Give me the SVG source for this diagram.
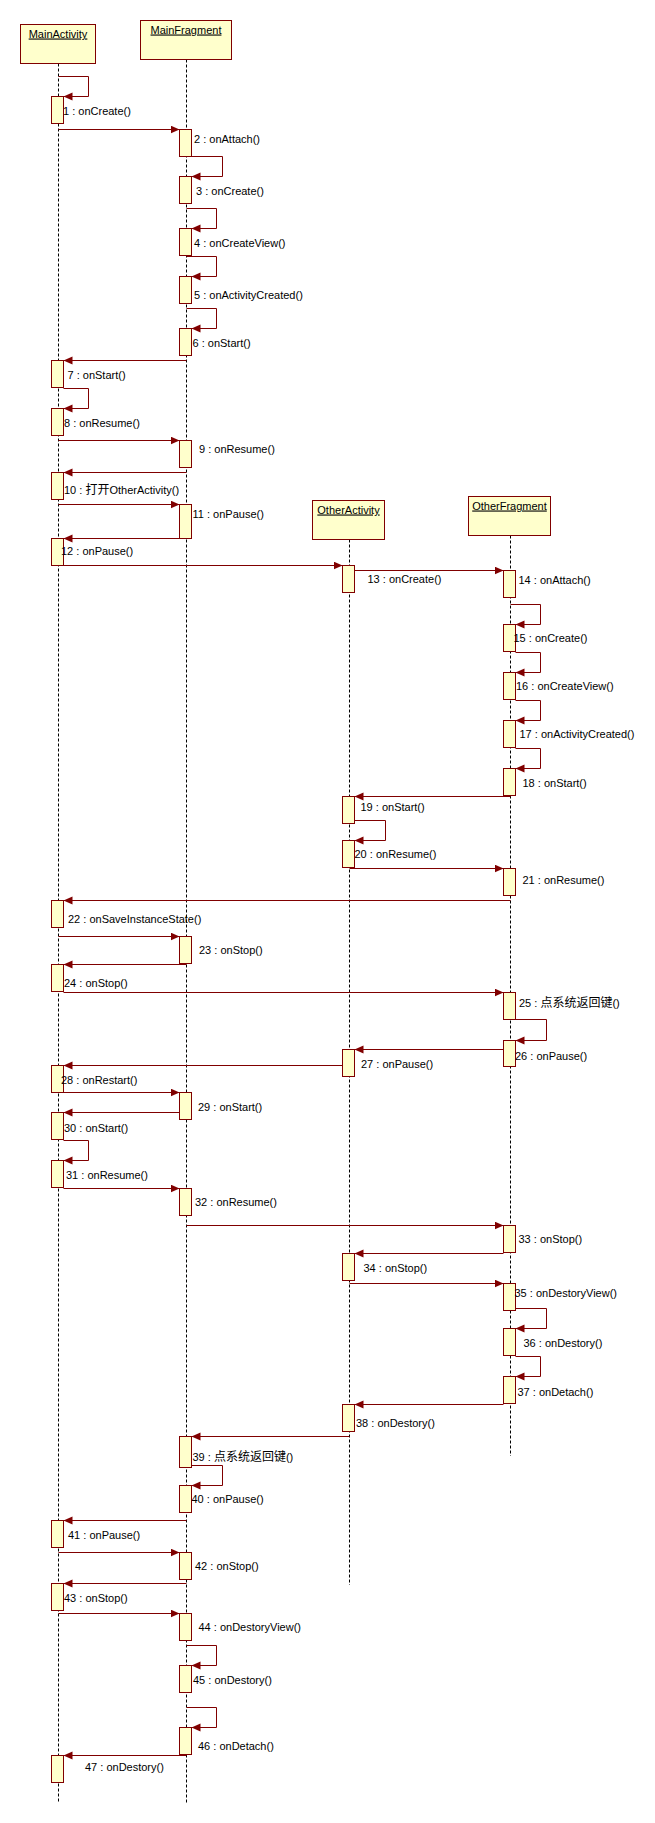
<svg xmlns="http://www.w3.org/2000/svg" width="655" height="1823" viewBox="0 0 655 1823">
<style>
.ll{stroke:#000;stroke-width:1;stroke-dasharray:3,2;fill:none}
.hd{fill:#ffffcc;stroke:#800000;stroke-width:1}
.act{fill:#ffffcc;stroke:#800000;stroke-width:1}
.msg{fill:none;stroke:#800000;stroke-width:1;marker-end:url(#ah)}
.nm{font-family:"Liberation Sans","Noto Sans CJK SC",sans-serif;font-size:11px;fill:#000;text-anchor:middle;text-decoration:underline}
.lbl{font-family:"Liberation Sans","Noto Sans CJK SC",sans-serif;font-size:11px;fill:#000}
.cjk{font-family:"Noto Sans CJK SC",sans-serif;font-size:12px}
</style>
<defs>
<marker id="ah" markerUnits="userSpaceOnUse" markerWidth="10" markerHeight="9" refX="9" refY="4" orient="auto">
<path d="M0,0 L9,4 L0,8 z" fill="#800000"/>
</marker>
</defs>
<rect width="655" height="1823" fill="#fff"/>

<g id="lifelines">
<line class="ll" x1="58.5" y1="63.5" x2="58.5" y2="1803"/>
<line class="ll" x1="186.5" y1="59.5" x2="186.5" y2="1803"/>
<line class="ll" x1="349.5" y1="539.5" x2="349.5" y2="1585"/>
<line class="ll" x1="510.5" y1="535.5" x2="510.5" y2="1456"/>
</g>

<g id="connectors">
<path class="msg" d="M58.5,76.5 H88.5 V96.5 H63.5"/>
<path class="msg" d="M58.5,129.5 H179.5"/>
<path class="msg" d="M191.5,156.5 H222.5 V176.5 H191.5"/>
<path class="msg" d="M186.5,208.5 H216.5 V228.5 H191.5"/>
<path class="msg" d="M186.5,256.5 H216.5 V276.5 H191.5"/>
<path class="msg" d="M186.5,308.5 H216.5 V328.5 H191.5"/>
<path class="msg" d="M186.5,360.5 H63.5"/>
<path class="msg" d="M63.5,388.5 H88.5 V408.5 H63.5"/>
<path class="msg" d="M58.5,440.5 H179.5"/>
<path class="msg" d="M186.5,472.5 H63.5"/>
<path class="msg" d="M58.5,504.5 H179.5"/>
<path class="msg" d="M186.5,538.5 H63.5"/>
<path class="msg" d="M63.5,565.5 H342.5"/>
<path class="msg" d="M354.5,570.5 H503.5"/>
<path class="msg" d="M510.5,604.5 H540.5 V624.5 H515.5"/>
<path class="msg" d="M515.5,652.5 H540.5 V672.5 H515.5"/>
<path class="msg" d="M515.5,700.5 H540.5 V720.5 H515.5"/>
<path class="msg" d="M515.5,748.5 H540.5 V768.5 H515.5"/>
<path class="msg" d="M510.5,796.5 H354.5"/>
<path class="msg" d="M354.5,820.5 H385.5 V840.5 H354.5"/>
<path class="msg" d="M349.5,868.5 H503.5"/>
<path class="msg" d="M510.5,900.5 H63.5"/>
<path class="msg" d="M58.5,936.5 H179.5"/>
<path class="msg" d="M186.5,964.5 H63.5"/>
<path class="msg" d="M63.5,992.5 H503.5"/>
<path class="msg" d="M515.5,1019.5 H546.5 V1040.5 H515.5"/>
<path class="msg" d="M503.5,1049.5 H354.5"/>
<path class="msg" d="M349.5,1065.5 H63.5"/>
<path class="msg" d="M63.5,1092.5 H179.5"/>
<path class="msg" d="M179.5,1112.5 H63.5"/>
<path class="msg" d="M63.5,1140.5 H88.5 V1160.5 H63.5"/>
<path class="msg" d="M63.5,1188.5 H179.5"/>
<path class="msg" d="M186.5,1225.5 H503.5"/>
<path class="msg" d="M503.5,1253.5 H354.5"/>
<path class="msg" d="M349.5,1283.5 H503.5"/>
<path class="msg" d="M515.5,1308.5 H546.5 V1328.5 H515.5"/>
<path class="msg" d="M515.5,1356.5 H540.5 V1376.5 H515.5"/>
<path class="msg" d="M503.5,1404.5 H354.5"/>
<path class="msg" d="M349.5,1436.5 H191.5"/>
<path class="msg" d="M191.5,1465.5 H222.5 V1485.5 H191.5"/>
<path class="msg" d="M186.5,1520.5 H63.5"/>
<path class="msg" d="M58.5,1552.5 H179.5"/>
<path class="msg" d="M186.5,1583.5 H63.5"/>
<path class="msg" d="M58.5,1613.5 H179.5"/>
<path class="msg" d="M186.5,1645.5 H216.5 V1665.5 H191.5"/>
<path class="msg" d="M186.5,1707.5 H216.5 V1727.5 H191.5"/>
<path class="msg" d="M186.5,1755.5 H63.5"/>
</g>

<g id="MainActivity">
<rect class="hd" x="20.5" y="24.5" width="75" height="39"/>
<text class="nm" x="58" y="37.5">MainActivity</text>
<rect class="act" x="51.5" y="96.5" width="12" height="27"/>
<rect class="act" x="51.5" y="360.5" width="12" height="27"/>
<rect class="act" x="51.5" y="408.5" width="12" height="27"/>
<rect class="act" x="51.5" y="472.5" width="12" height="27"/>
<rect class="act" x="51.5" y="538.5" width="12" height="27"/>
<rect class="act" x="51.5" y="900.5" width="12" height="27"/>
<rect class="act" x="51.5" y="964.5" width="12" height="27"/>
<rect class="act" x="51.5" y="1065.5" width="12" height="27"/>
<rect class="act" x="51.5" y="1112.5" width="12" height="27"/>
<rect class="act" x="51.5" y="1160.5" width="12" height="27"/>
<rect class="act" x="51.5" y="1520.5" width="12" height="27"/>
<rect class="act" x="51.5" y="1583.5" width="12" height="27"/>
<rect class="act" x="51.5" y="1755.5" width="12" height="27"/>
</g>

<g id="MainFragment">
<rect class="hd" x="140.5" y="20.5" width="91" height="39"/>
<text class="nm" x="186" y="33.5">MainFragment</text>
<rect class="act" x="179.5" y="129.5" width="12" height="27"/>
<rect class="act" x="179.5" y="176.5" width="12" height="27"/>
<rect class="act" x="179.5" y="228.5" width="12" height="27"/>
<rect class="act" x="179.5" y="276.5" width="12" height="27"/>
<rect class="act" x="179.5" y="328.5" width="12" height="27"/>
<rect class="act" x="179.5" y="440.5" width="12" height="27"/>
<rect class="act" x="179.5" y="504.5" width="12" height="34"/>
<rect class="act" x="179.5" y="936.5" width="12" height="27"/>
<rect class="act" x="179.5" y="1092.5" width="12" height="27"/>
<rect class="act" x="179.5" y="1188.5" width="12" height="27"/>
<rect class="act" x="179.5" y="1436.5" width="12" height="31"/>
<rect class="act" x="179.5" y="1485.5" width="12" height="27"/>
<rect class="act" x="179.5" y="1552.5" width="12" height="27"/>
<rect class="act" x="179.5" y="1613.5" width="12" height="27"/>
<rect class="act" x="179.5" y="1665.5" width="12" height="27"/>
<rect class="act" x="179.5" y="1727.5" width="12" height="27"/>
</g>

<g id="OtherActivity">
<rect class="hd" x="312.5" y="500.5" width="72" height="39"/>
<text class="nm" x="348.5" y="513.5">OtherActivity</text>
<rect class="act" x="342.5" y="565.5" width="12" height="27"/>
<rect class="act" x="342.5" y="796.5" width="12" height="27"/>
<rect class="act" x="342.5" y="840.5" width="12" height="27"/>
<rect class="act" x="342.5" y="1049.5" width="12" height="27"/>
<rect class="act" x="342.5" y="1253.5" width="12" height="27"/>
<rect class="act" x="342.5" y="1404.5" width="12" height="27"/>
</g>

<g id="OtherFragment">
<rect class="hd" x="468.5" y="496.5" width="82" height="39"/>
<text class="nm" x="509.5" y="509.5">OtherFragment</text>
<rect class="act" x="503.5" y="570.5" width="12" height="27"/>
<rect class="act" x="503.5" y="624.5" width="12" height="27"/>
<rect class="act" x="503.5" y="672.5" width="12" height="27"/>
<rect class="act" x="503.5" y="720.5" width="12" height="27"/>
<rect class="act" x="503.5" y="768.5" width="12" height="27"/>
<rect class="act" x="503.5" y="868.5" width="12" height="27"/>
<rect class="act" x="503.5" y="992.5" width="12" height="27"/>
<rect class="act" x="503.5" y="1040.5" width="12" height="26"/>
<rect class="act" x="503.5" y="1225.5" width="12" height="27"/>
<rect class="act" x="503.5" y="1283.5" width="12" height="27"/>
<rect class="act" x="503.5" y="1328.5" width="12" height="27"/>
<rect class="act" x="503.5" y="1376.5" width="12" height="27"/>
</g>

<g id="labels" class="lbl">
<text x="63" y="115">1 : onCreate()</text>
<text x="194" y="142.5">2 : onAttach()</text>
<text x="196" y="194.5">3 : onCreate()</text>
<text x="194" y="246.5">4 : onCreateView()</text>
<text x="194" y="299">5 : onActivityCreated()</text>
<text x="192.5" y="347">6 : onStart()</text>
<text x="67.5" y="378.5">7 : onStart()</text>
<text x="64" y="426.5">8 : onResume()</text>
<text x="199" y="452.5">9 : onResume()</text>
<text x="64" y="494">10 : <tspan class="cjk">打开</tspan>OtherActivity()</text>
<text x="192.5" y="517.5">11 : onPause()</text>
<text x="61" y="555">12 : onPause()</text>
<text x="367.5" y="583">13 : onCreate()</text>
<text x="518.5" y="583.5">14 : onAttach()</text>
<text x="513.5" y="642">15 : onCreate()</text>
<text x="516" y="690">16 : onCreateView()</text>
<text x="519.5" y="738">17 : onActivityCreated()</text>
<text x="522.5" y="786.5">18 : onStart()</text>
<text x="360.5" y="810.5">19 : onStart()</text>
<text x="354.5" y="858">20 : onResume()</text>
<text x="522.5" y="884">21 : onResume()</text>
<text x="68" y="923">22 : onSaveInstanceState()</text>
<text x="199" y="954">23 : onStop()</text>
<text x="64" y="987">24 : onStop()</text>
<text x="519" y="1007">25 : <tspan class="cjk">点系统返回键</tspan>()</text>
<text x="515" y="1059.5">26 : onPause()</text>
<text x="361" y="1067.5">27 : onPause()</text>
<text x="61" y="1084">28 : onRestart()</text>
<text x="198" y="1110.5">29 : onStart()</text>
<text x="64" y="1131.5">30 : onStart()</text>
<text x="66" y="1179">31 : onResume()</text>
<text x="195" y="1206">32 : onResume()</text>
<text x="518.5" y="1243">33 : onStop()</text>
<text x="363.5" y="1272">34 : onStop()</text>
<text x="514.5" y="1297">35 : onDestoryView()</text>
<text x="523.5" y="1347">36 : onDestory()</text>
<text x="517.5" y="1395.5">37 : onDetach()</text>
<text x="356" y="1427">38 : onDestory()</text>
<text x="192.5" y="1460.5">39 : <tspan class="cjk">点系统返回键</tspan>()</text>
<text x="191.5" y="1503">40 : onPause()</text>
<text x="68" y="1538.5">41 : onPause()</text>
<text x="195" y="1569.5">42 : onStop()</text>
<text x="64" y="1602">43 : onStop()</text>
<text x="198.5" y="1631">44 : onDestoryView()</text>
<text x="193" y="1683.5">45 : onDestory()</text>
<text x="198" y="1749.5">46 : onDetach()</text>
<text x="85" y="1770.5">47 : onDestory()</text>
</g>
</svg>
